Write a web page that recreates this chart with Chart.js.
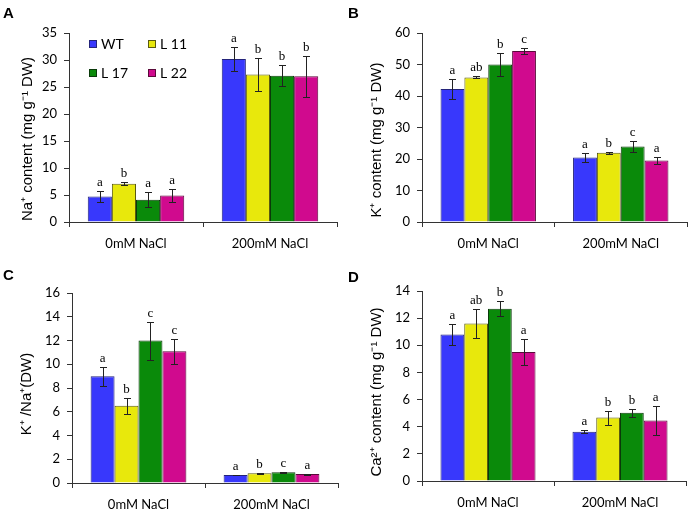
<!DOCTYPE html>
<html>
<head>
<meta charset="utf-8">
<script src="https://cdn.jsdelivr.net/npm/chart.js@4.4.0/dist/chart.umd.min.js"></script>
<style>
  body { margin: 0; background: #fff; }
  #wrap { position: relative; width: 690px; height: 512px; }
  .panel { position: absolute; width: 345px; height: 256px; }
</style>
</head>
<body>
<div id="wrap">
  <div class="panel" style="left:0;top:0"><canvas id="cA" width="345" height="256"></canvas></div>
  <div class="panel" style="left:345px;top:0"><canvas id="cB" width="345" height="256"></canvas></div>
  <div class="panel" style="left:0;top:256px"><canvas id="cC" width="345" height="256"></canvas></div>
  <div class="panel" style="left:345px;top:256px"><canvas id="cD" width="345" height="256"></canvas></div>
</div>
<script>
/* ── data ─────────────────────────────────────────────── */
const GROUPS = ['0mM NaCl', '200mM NaCl'];
const LINES  = ['WT', 'L 11', 'L 17', 'L 22'];
const FILLS  = ['#3838fc', '#e8e80c', '#0a8a0a', '#d00a8e'];
const EDGES  = ['#24247a', '#5a5a10', '#0a3a0a', '#5a0a3a'];

// per line: [0mM, 200mM]
const naMean = [[4.7, 30.2], [7.1, 27.3], [4.1, 27.1], [4.9, 27.0]];
const naErr  = [[0.95, 2.25], [0.3, 3.1], [1.4, 1.9], [1.25, 3.8]];
const naSig  = [['a', 'a'], ['b', 'b'], ['a', 'b'], ['a', 'b']];

const kMean  = [[42.2, 20.5], [45.9, 22.0], [50.0, 24.0], [54.3, 19.5]];
const kErr   = [[3.1, 1.3], [0.3, 0.3], [3.6, 1.75], [0.9, 1.1]];
const kSig   = [['a', 'a'], ['ab', 'b'], ['b', 'c'], ['c', 'a']];

const ratioMean = [[9.0, 0.68], [6.5, 0.82], [12.0, 0.9], [11.1, 0.75]];
const ratioErr  = [[0.8, 0.03], [0.65, 0.05], [1.6, 0.03], [1.05, 0.04]];
const ratioSig  = [['a', 'a'], ['b', 'b'], ['c', 'c'], ['c', 'a']];

const caMean = [[10.8, 3.63], [11.6, 4.67], [12.7, 5.03], [9.5, 4.45]];
const caErr  = [[0.78, 0.1], [1.08, 0.52], [0.55, 0.3], [0.95, 1.05]];
const caSig  = [['a', 'a'], ['ab', 'b'], ['b', 'b'], ['a', 'a']];

const AXIS = '#333';
const TICK_FONT = { family: 'Lato', size: 13 };

/* ── plugins ──────────────────────────────────────────── */
const errorBars = {
  id: 'errorBars',
  afterDatasetsDraw(chart) {
    const { ctx } = chart;
    const y = chart.scales.y;
    ctx.save();
    ctx.strokeStyle = '#222';
    ctx.lineWidth = 1;
    ctx.fillStyle = '#000';
    ctx.font = '13px "Liberation Serif"';
    ctx.textAlign = 'center';
    ctx.textBaseline = 'bottom';
    chart.data.datasets.forEach((ds, i) => {
      chart.getDatasetMeta(i).data.forEach((bar, j) => {
        const v = ds.data[j], e = ds.err[j];
        const top = Math.round(y.getPixelForValue(v + e)) + 0.5;
        const bot = Math.round(y.getPixelForValue(Math.max(0, v - e))) + 0.5;
        const x = Math.round(bar.x) + 0.5;
        ctx.beginPath();
        ctx.moveTo(x, top); ctx.lineTo(x, bot);
        ctx.moveTo(x - 3.5, top); ctx.lineTo(x + 3.5, top);
        ctx.moveTo(x - 3.5, bot); ctx.lineTo(x + 3.5, bot);
        ctx.stroke();
        ctx.fillText(ds.sig[j], bar.x, top - 2);
      });
    });
    ctx.restore();
  }
};

const panelText = {
  id: 'panelText',
  afterDraw(chart, args, opts) {
    const { ctx } = chart;
    ctx.save();
    ctx.fillStyle = '#000';
    ctx.font = 'bold 15px "Liberation Sans"';
    ctx.textAlign = 'left';
    ctx.textBaseline = 'top';
    ctx.fillText(opts.letter, 3, opts.letterY);

    ctx.font = '15px "Liberation Sans"';
    ctx.translate(opts.titleX, opts.titleY);
    ctx.rotate(-Math.PI / 2);
    ctx.textAlign = 'center';
    ctx.textBaseline = 'middle';
    ctx.fillText(opts.title, 0, 0);
    ctx.restore();
  }
};

const boxLegend = {
  id: 'boxLegend',
  afterDraw(chart, args, opts) {
    if (!opts.show) return;
    const { ctx, chartArea } = chart;
    ctx.save();
    ctx.font = '14px Lato';
    ctx.textBaseline = 'middle';
    ctx.textAlign = 'left';
    chart.data.datasets.forEach((ds, i) => {
      const bx = chartArea.left + 20 + (i % 2) * 59;
      const by = chartArea.top + 7 + Math.floor(i / 2) * 29;
      ctx.fillStyle = ds.backgroundColor;
      ctx.fillRect(bx, by, 7, 7);
      ctx.strokeStyle = ds.borderColor;
      ctx.lineWidth = 1;
      ctx.strokeRect(bx + 0.5, by + 0.5, 7, 7);
      ctx.fillStyle = '#000';
      ctx.fillText(ds.label, bx + 12, by + 4);
    });
    ctx.restore();
  }
};

/* ── panels ───────────────────────────────────────────── */
function makePanel(canvasId, p) {
  const datasets = LINES.map((name, i) => ({
    label: name,
    data: p.mean[i],
    err: p.err[i],
    sig: p.sig[i],
    backgroundColor: FILLS[i],
    borderColor: EDGES[i],
    borderWidth: 1,
    barPercentage: 1.0,
    categoryPercentage: 0.72,
  }));

  return new Chart(document.getElementById(canvasId), {
    type: 'bar',
    data: { labels: GROUPS, datasets },
    plugins: [errorBars, panelText, boxLegend],
    options: {
      responsive: false,
      animation: false,
      layout: { padding: { left: 0, top: p.top, right: p.right, bottom: 0 } },
      plugins: {
        legend: { display: false },
        tooltip: { enabled: false },
        panelText: { letter: p.letter, letterY: p.letterY, title: p.title, titleX: p.titleX, titleY: p.titleY },
        boxLegend: { show: !!p.legend },
      },
      scales: {
        x: {
          grid: { offset: true, drawOnChartArea: false, tickLength: 5, color: AXIS },
          border: { color: AXIS, width: 1 },
          ticks: { font: TICK_FONT, color: '#000', padding: 9 },
          afterFit: s => { s.height = p.xh; },
        },
        y: {
          min: 0,
          max: p.max,
          grid: { drawOnChartArea: false, tickLength: 5, color: AXIS },
          border: { color: AXIS, width: 1 },
          ticks: { stepSize: p.step, font: TICK_FONT, color: '#000', padding: 7 },
          afterFit: s => { s.width = p.yw; },
        },
      },
    },
  });
}

makePanel('cA', {
  mean: naMean, err: naErr, sig: naSig, max: 35, step: 5,
  top: 33, right: 8, yw: 69, xh: 34,
  letter: 'A', letterY: 6, title: 'Na\u207A content (mg g\u207B\u00B9 DW)', titleX: 28, titleY: 139,
  legend: true,
});
makePanel('cB', {
  mean: kMean, err: kErr, sig: kSig, max: 60, step: 10,
  top: 33, right: 3, yw: 77, xh: 34,
  letter: 'B', letterY: 6, title: 'K\u207A content (mg g\u207B\u00B9 DW)', titleX: 32, titleY: 140,
});
makePanel('cC', {
  mean: ratioMean, err: ratioErr, sig: ratioSig, max: 16, step: 2,
  top: 37, right: 7, yw: 72, xh: 29,
  letter: 'C', letterY: 12, title: 'K\u207A /Na\u207A(DW)', titleX: 27, titleY: 138,
});
makePanel('cD', {
  mean: caMean, err: caErr, sig: caSig, max: 14, step: 2,
  top: 35, right: 4, yw: 77, xh: 31,
  letter: 'D', letterY: 14, title: 'Ca\u00B2\u207A content (mg g\u207B\u00B9 DW)', titleX: 32, titleY: 136,
});
</script>
</body>
</html>
